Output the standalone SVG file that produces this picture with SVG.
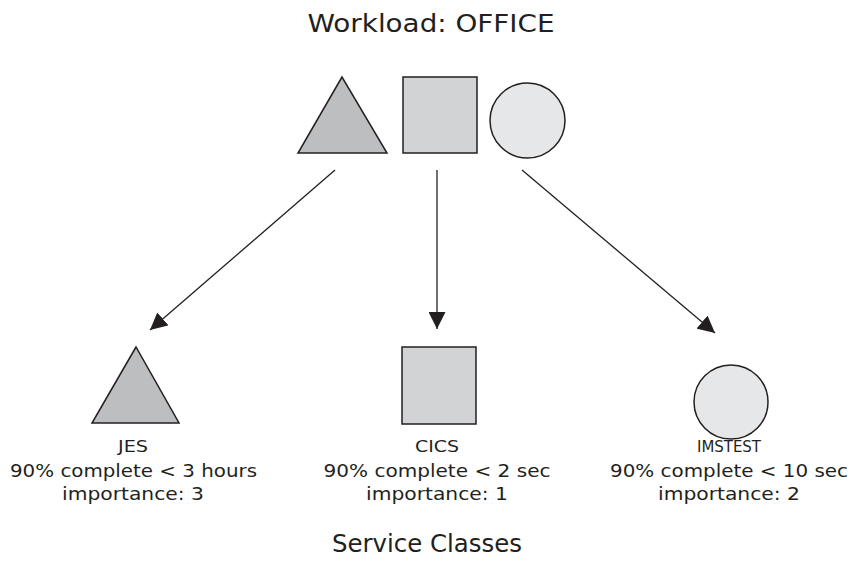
<svg xmlns="http://www.w3.org/2000/svg" width="853" height="565" viewBox="0 0 853 565">
<style>
.t{font-family:"DejaVu Sans","Liberation Sans",sans-serif;fill:#231f20;text-anchor:middle}
.h{font-size:24px}
.l{font-size:18px}
.n{font-size:16px}
.tri{fill:#bcbec0;stroke:#231f20;stroke-width:1.5}
.sq{fill:#d1d3d4;stroke:#231f20;stroke-width:1.5}
.ci{fill:#e6e7e8;stroke:#231f20;stroke-width:1.5}
.c{stroke:#231f20;stroke-width:1.3;fill:none;marker-end:url(#a)}
</style>
<defs>
<marker id="a" viewBox="0 0 10 10" refX="10" refY="5" markerWidth="17" markerHeight="17" markerUnits="userSpaceOnUse" orient="auto">
<path d="M0,0 L10,5 L0,10 z" fill="#231f20"/>
</marker>
</defs>
<rect width="853" height="565" fill="#fff"/>
<text class="t h" x="431" y="32" textLength="247" lengthAdjust="spacingAndGlyphs">Workload: OFFICE</text>
<g id="workload">
<polygon class="tri" points="342,77 298,153 387,153"/>
<rect class="sq" x="403" y="77" width="74" height="76"/>
<circle class="ci" cx="527.5" cy="120.5" r="37.5"/>
</g>
<g id="connectors">
<line class="c" x1="335" y1="170" x2="150" y2="330"/>
<line class="c" x1="437" y1="170" x2="437" y2="329"/>
<line class="c" x1="522" y1="170" x2="715" y2="333"/>
</g>
<g id="jes">
<polygon class="tri" points="136,347 92,423 179,423"/>
<text class="t n" x="133" y="452" textLength="30" lengthAdjust="spacingAndGlyphs">JES</text>
<text class="t l" x="133.5" y="477" textLength="247" lengthAdjust="spacingAndGlyphs">90% complete &lt; 3 hours</text>
<text class="t l" x="133" y="500" textLength="142" lengthAdjust="spacingAndGlyphs">importance: 3</text>
</g>
<g id="cics">
<rect class="sq" x="402" y="347" width="74" height="77"/>
<text class="t n" x="437" y="452" textLength="44" lengthAdjust="spacingAndGlyphs">CICS</text>
<text class="t l" x="437" y="477" textLength="227" lengthAdjust="spacingAndGlyphs">90% complete &lt; 2 sec</text>
<text class="t l" x="437" y="500" textLength="142" lengthAdjust="spacingAndGlyphs">importance: 1</text>
</g>
<g id="imstest">
<circle class="ci" cx="731" cy="402" r="37"/>
<text class="t n" x="729" y="452" textLength="64" lengthAdjust="spacingAndGlyphs">IMSTEST</text>
<text class="t l" x="729" y="477" textLength="238" lengthAdjust="spacingAndGlyphs">90% complete &lt; 10 sec</text>
<text class="t l" x="729" y="500" textLength="142" lengthAdjust="spacingAndGlyphs">importance: 2</text>
</g>
<text class="t h" x="427" y="552" textLength="190" lengthAdjust="spacingAndGlyphs">Service Classes</text>
</svg>
